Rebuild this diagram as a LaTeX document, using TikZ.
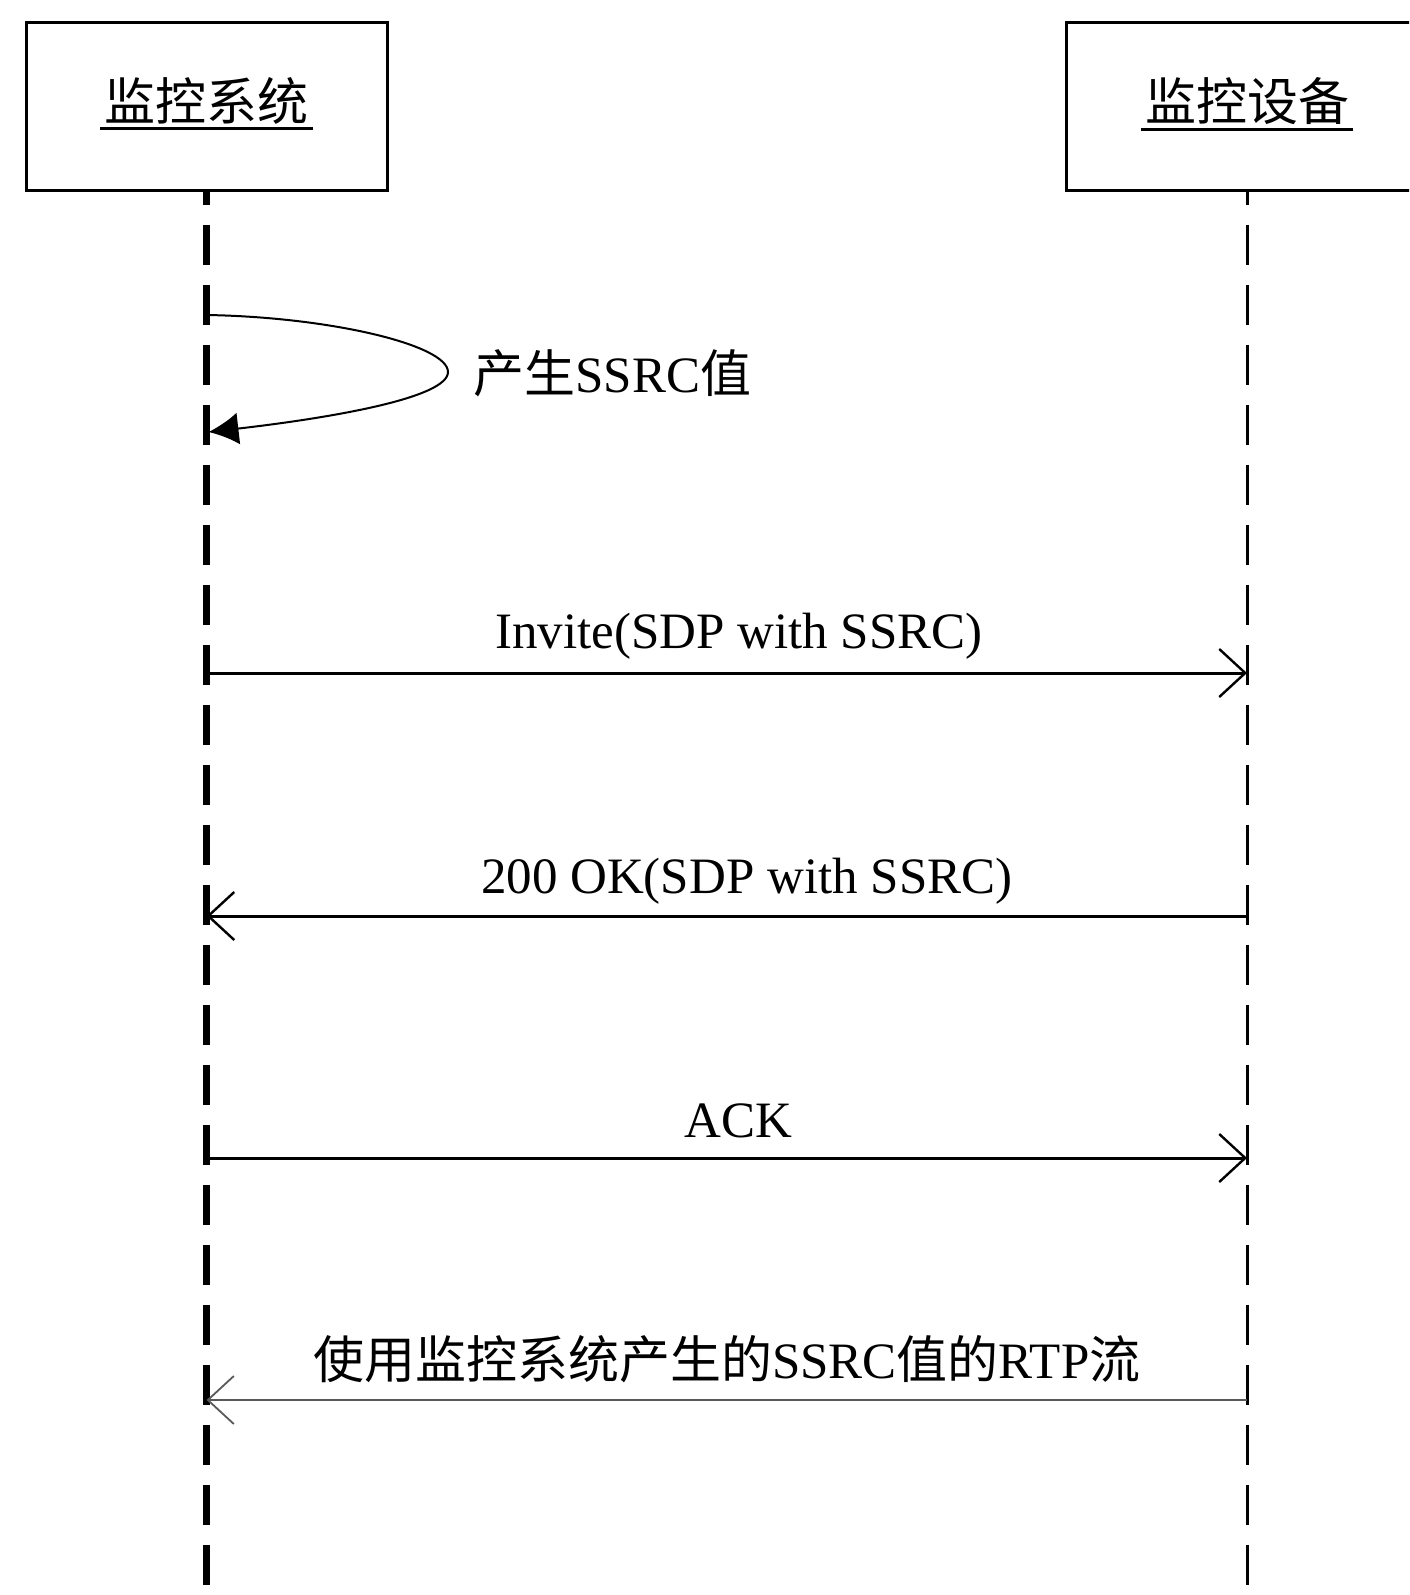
\documentclass[tikz,border=0pt]{standalone}
\usepackage{fontspec}
\setmainfont{Liberation Serif}
\newfontfamily\cjk{Noto Sans CJK SC}
\usetikzlibrary{arrows.meta}

\begin{document}
\begin{tikzpicture}[x=0.5pt, y=-0.5pt, % one unit is one pixel, y downwards
    actor/.style={draw, line width=1.5pt, minimum width=180.5pt, minimum height=83.5pt, inner sep=0pt},
    actorname/.style={font=\cjk\fontsize{25.5}{30}\selectfont, inner sep=2pt},
    uline/.style={line width=1.5pt},
    lifeline/.style={dash pattern=on 20pt off 10pt, dash phase=13.5pt},
    msg/.style={line width=1.5pt, -{Straight Barb[length=13pt, width=24pt, line width=1.2pt]}},
    stream/.style={line width=1pt, black!65, -{Straight Barb[length=13pt, width=24pt, line width=0.9pt]}},
    selfmsg/.style={line width=1pt, -{Latex[length=15pt, width=16pt]}},
    lbl/.style={font=\fontsize{25.5}{30}\selectfont, inner sep=0pt}]

        % Define parameters
        \def\sysx{206.5}  % left lifeline
        \def\devx{1247}   % right lifeline
        \def\ybot{1595}   % page bottom

        % page
        \useasboundingbox (0,0) rectangle (1409,1595);
        \clip (0,0) rectangle (1409,1595);

        % actors
        \node[actor] (sys) at (\sysx,106.5) {};
        \node[actor] (dev) at (\devx,106.5) {};
        \node[actorname] (syslbl) at (\sysx,101) {监控系统};
        \node[actorname] (devlbl) at (\devx,101) {监控设备};
        \draw[uline] (syslbl.south west) -- (syslbl.south east);
        \draw[uline] (devlbl.south west) -- (devlbl.south east);

        % lifelines
        \coordinate (sysend) at (\sysx,\ybot);
        \coordinate (devend) at (\devx,\ybot);
        \draw[lifeline, line width=3.5pt] (sys.south) -- (sysend);
        \draw[lifeline, line width=1.5pt] (dev.south) -- (devend);

        % self message
        \coordinate (loopA) at (\sysx,315);
        \coordinate (loopB) at (\sysx+2,432);
        \draw[selfmsg] (loopA) .. controls (330,317) and (448,345) .. (448,372)
                               .. controls (448,398) and (330,418) .. (loopB);
        \node[lbl, anchor=west] (genlbl) at (473,373) {{\cjk 产生}SSRC{\cjk 值}};

        % message rows
        \coordinate (s1) at (\sysx,673);  \coordinate (d1) at (\devx,673);
        \coordinate (s2) at (\sysx,916);  \coordinate (d2) at (\devx,916);
        \coordinate (s3) at (\sysx,1158); \coordinate (d3) at (\devx,1158);
        \coordinate (s4) at (\sysx,1400); \coordinate (d4) at (\devx,1400);

        % messages
        \draw[msg] (s1) -- (d1) node[lbl, midway, anchor=base, yshift=12.5pt, xshift=6pt] {Invite(SDP with SSRC)};
        \draw[msg] (d2) -- (s2) node[lbl, midway, anchor=base, yshift=11.5pt, xshift=10pt] {200 OK(SDP with SSRC)};
        \draw[msg] (s3) -- (d3) node[lbl, midway, anchor=base, yshift=10.5pt, xshift=6pt] {ACK};
        \draw[stream] (d4) -- (s4) node[lbl, black, midway, anchor=base, yshift=11pt] {{\cjk 使用监控系统产生的}SSRC{\cjk 值的}RTP{\cjk 流}};

    \end{tikzpicture}
\end{document}
